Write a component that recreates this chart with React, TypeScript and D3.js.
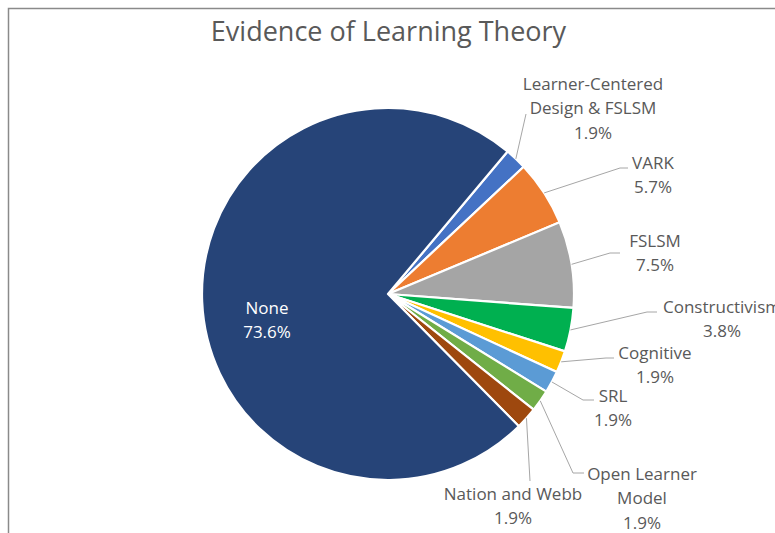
import React from "react";
import * as d3 from "d3";

const categories = [
  "Learner-Centered Design & FSLSM",
  "VARK",
  "FSLSM",
  "Constructivism",
  "Cognitive",
  "SRL",
  "Open Learner Model",
  "Nation and Webb",
  "None",
];
const values = [1.9, 5.7, 7.5, 3.8, 1.9, 1.9, 1.9, 1.9, 73.6];
const percentLabels = ["1.9%", "5.7%", "7.5%", "3.8%", "1.9%", "1.9%", "1.9%", "1.9%", "73.6%"];
const colors = ["#4472C4", "#ED7D31", "#A5A5A5", "#00B050", "#FFC000", "#5B9BD5", "#70AD47", "#9E480E", "#264478"];

// label layout: text lines, center x, first line center y, leader elbow & end
const labelLayout: Record<string, { lines: string[]; x: number; y: number; leader?: [number, number][] }> = {
  "Learner-Centered Design & FSLSM": { lines: ["Learner-Centered", "Design & FSLSM"], x: 593, y: 83, leader: [[526, 114]] },
  VARK: { lines: ["VARK"], x: 653, y: 162, leader: [[620, 168], [628, 168]] },
  FSLSM: { lines: ["FSLSM"], x: 655, y: 240, leader: [[610, 253], [620, 253]] },
  Constructivism: { lines: ["Constructivism"], x: 722, y: 306, leader: [[647, 312], [657, 312]] },
  Cognitive: { lines: ["Cognitive"], x: 655, y: 352, leader: [[606, 358], [614, 358]] },
  SRL: { lines: ["SRL"], x: 613, y: 395, leader: [[583, 400], [594, 400]] },
  "Open Learner Model": { lines: ["Open Learner", "Model"], x: 642, y: 473, leader: [[573, 473], [584, 473]] },
  "Nation and Webb": { lines: ["Nation and Webb"], x: 513, y: 493, leader: [[530, 481]] },
  None: { lines: ["None"], x: 267, y: 307 },
};

const W = 775;
const H = 533;
const cx = 388;
const cy = 294;
const R = 186;
const startDeg = 40;
const lineH = 24.5;
const font = "'Open Sans', 'Noto Sans', sans-serif";

export default function App() {
  const data = categories.map((c, i) => ({ name: c, value: values[i], pct: percentLabels[i], color: colors[i] }));
  const start = (startDeg * Math.PI) / 180;
  const pie = d3
    .pie<any>()
    .sort(null)
    .value((d) => d.value)
    .startAngle(start)
    .endAngle(start + 2 * Math.PI);
  const arcs = pie(data);
  const arc = d3.arc<any>().innerRadius(0).outerRadius(R);

  return (
    <svg
      width={W}
      height={H}
      viewBox={`0 0 ${W} ${H}`}
      style={{ position: "fixed", left: 0, top: 0, background: "#fff" }}
    >
      <rect x={8.5} y={8.5} width={W + 20} height={H + 20} fill="#fff" stroke="#8a8a8a" strokeWidth={1.5} />
      <text x={388.5} y={30} textAnchor="middle" dominantBaseline="central" fontFamily={font} fontSize={27} fill="#595959">
        Evidence of Learning Theory
      </text>
      <g transform={`translate(${cx},${cy})`}>
        {arcs.map((a, i) => (
          <path key={i} d={arc(a) as string} fill={a.data.color} stroke="#fff" strokeWidth={2.2} strokeLinejoin="round" />
        ))}
      </g>
      {arcs.map((a, i) => {
        const L = labelLayout[a.data.name];
        if (!L || !L.leader) return null;
        const mid = (a.startAngle + a.endAngle) / 2;
        const sx = cx + R * Math.sin(mid);
        const sy = cy - R * Math.cos(mid);
        const pts: [number, number][] = [[sx, sy], ...L.leader];
        return (
          <path key={"l" + i} d={d3.line()(pts) as string} fill="none" stroke="#a6a6a6" strokeWidth={1} />
        );
      })}
      {arcs.map((a, i) => {
        const L = labelLayout[a.data.name];
        const inside = a.data.name === "None";
        const lines = [...L.lines, a.data.pct];
        return (
          <text
            key={"t" + i}
            textAnchor="middle"
            fontFamily={font}
            fontSize={17}
            fill={inside ? "#ffffff" : "#595959"}
          >
            {lines.map((ln, j) => (
              <tspan key={j} x={L.x} y={L.y + j * lineH} dominantBaseline="central">
                {ln}
              </tspan>
            ))}
          </text>
        );
      })}
    </svg>
  );
}
